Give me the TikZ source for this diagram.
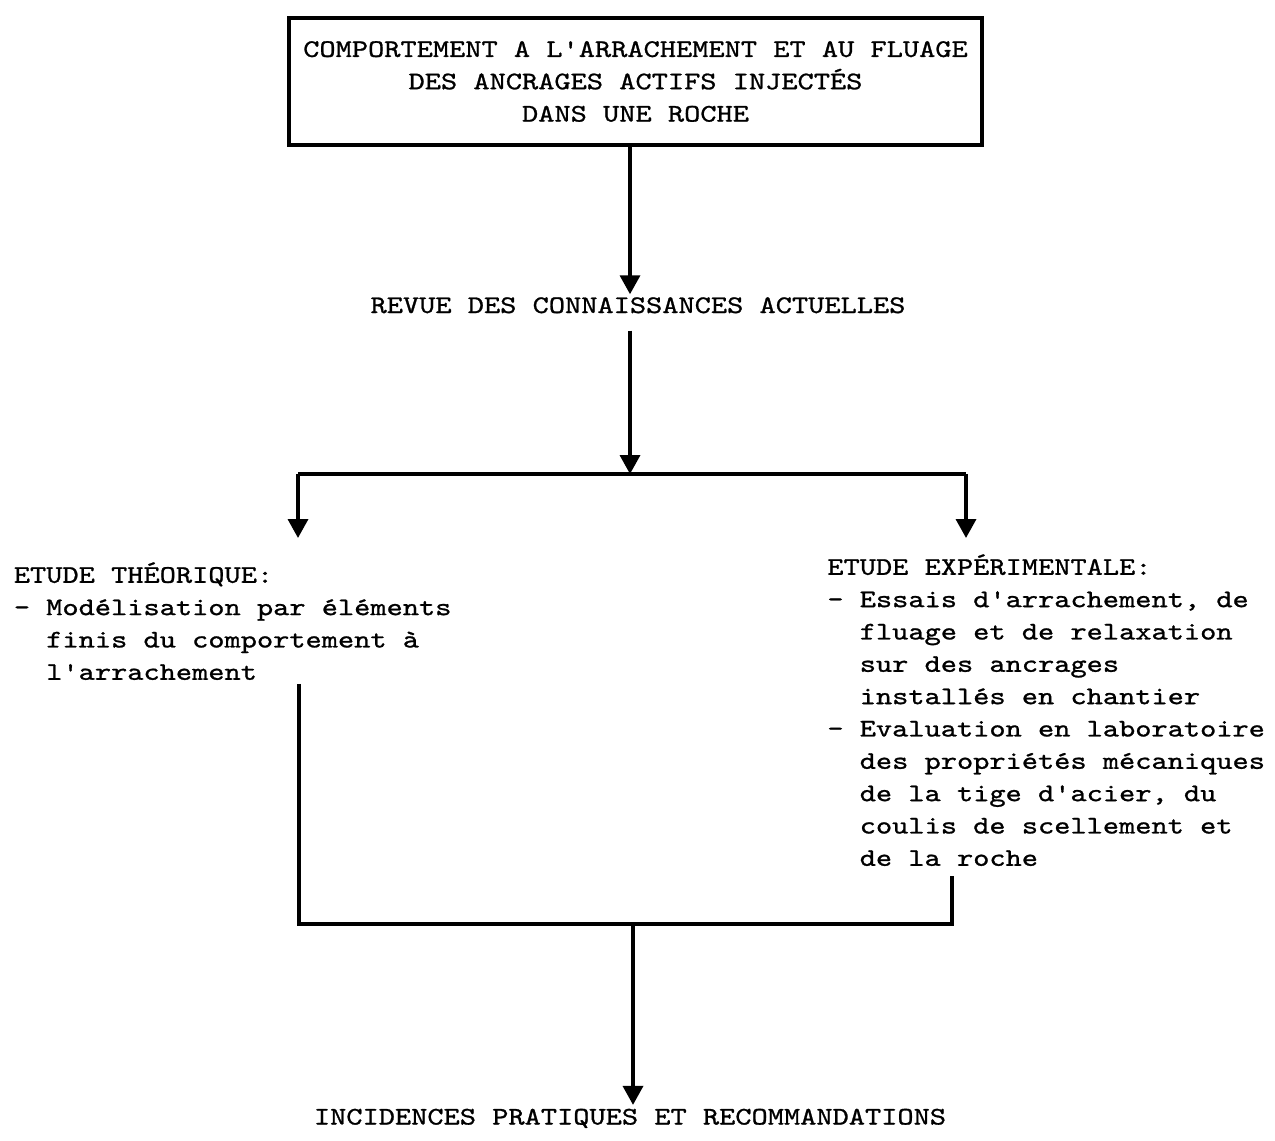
\documentclass[tikz,border=0pt]{standalone}
\usepackage{fontspec}
\setmonofont{lmmono10-regular}[Extension=.otf, FakeStretch=1.22, FakeBold=1]
\usepackage{tikz}
\usetikzlibrary{positioning, arrows.meta, calc}
\newcommand{\indt}{\hphantom{-\ }}

\begin{document}
\begin{tikzpicture}[font=\ttfamily\fontsize{14.4pt}{18.4pt}\selectfont,
  e/.style={draw, line width=2pt, minimum width=13.86cm, minimum height=2.54cm, align=center, inner sep=0pt},
  txt/.style={inner sep=0pt, align=left},
  ln/.style={line width=2pt},
  arr/.style={-{Triangle[length=0.38cm, width=0.4cm]}, line width=2pt}
]
  \useasboundingbox (0,0) rectangle (25.5,-22.8);

  \node[e] (title) at (12.71,-1.63) {COMPORTEMENT A L'ARRACHEMENT ET AU FLUAGE\\DES ANCRAGES ACTIFS INJECTÉS\\DANS UNE ROCHE};
  \node[txt, anchor=base] (revue) at (12.76,-6.26) {REVUE DES CONNAISSANCES ACTUELLES};
  \node[txt, anchor=north west] (theo) at (0.27,-11.24) {ETUDE THÉORIQUE:\\- Modélisation par éléments\\\indt finis du comportement à\\\indt l'arrachement};
  \node[txt, anchor=north west] (exp) at (16.54,-11.08) {ETUDE EXPÉRIMENTALE:\\- Essais d'arrachement, de\\\indt fluage et de relaxation\\\indt sur des ancrages\\\indt installés en chantier\\- Evaluation en laboratoire\\\indt des propriétés mécaniques\\\indt de la tige d'acier, du\\\indt coulis de scellement et\\\indt de la roche};
  \node[txt, anchor=base] (inc) at (12.6,-22.49) {INCIDENCES PRATIQUES ET RECOMMANDATIONS};

  \coordinate (split) at (12.6,-9.48);
  \coordinate (bl) at (5.96,-9.48);
  \coordinate (br) at (19.32,-9.48);
  \coordinate (merge) at (12.66,-18.48);
  \coordinate (jl) at (5.98,-18.48);
  \coordinate (jr) at (19.04,-18.48);

  \draw[arr, shorten >=1.5pt] (title.south -| split) -- (split |- revue.north);
  \draw[arr, shorten <=0.34cm] (split |- revue.south) -- (split);
  \draw[ln] (bl) -- (br);
  \draw[arr, shorten >=0.48cm] (bl) -- (bl |- theo.north);
  \draw[arr, shorten >=0.32cm] (br) -- (br |- exp.north);
  \draw[ln, shorten <=0.07cm] (jl |- theo.south) -- (jl) -- (jr) -- ([yshift=-0.2cm]jr |- exp.south);
  \draw[arr, shorten >=2pt] (merge) -- (merge |- inc.north);
\end{tikzpicture}
\end{document}
